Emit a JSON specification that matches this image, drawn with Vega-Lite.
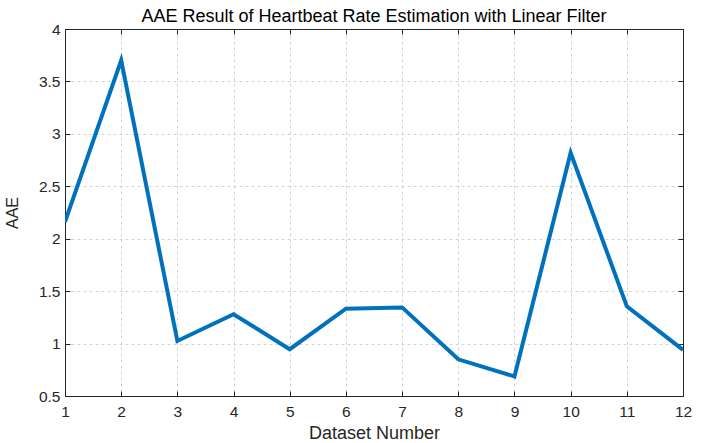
{
  "$schema": "https://vega.github.io/schema/vega-lite/v6.json",
  "width": 618,
  "height": 367,
  "autosize": {"type": "none"},
  "padding": {"left": 65, "top": 29, "right": 18, "bottom": 47},
  "background": "white",
  "title": {
    "text": "AAE Result of Heartbeat Rate Estimation with Linear Filter",
    "font": "Liberation Sans",
    "fontSize": 18,
    "fontWeight": "normal",
    "color": "#000000",
    "offset": -4,
    "anchor": "middle"
  },
  "config": {
    "view": {"stroke": "#262626", "strokeWidth": 1},
    "axis": {
      "labelFont": "Liberation Sans",
      "titleFont": "Liberation Sans",
      "labelFontSize": 15.5,
      "titleFontSize": 18,
      "titleFontWeight": "normal",
      "labelColor": "#262626",
      "titleColor": "#262626",
      "domainColor": "#262626",
      "tickColor": "#262626",
      "gridColor": "#c8c8c8",
      "gridDash": [3, 3],
      "gridWidth": 0.8
    }
  },
  "data": {
    "values": [
      {"dataset": 1, "aae": 2.16},
      {"dataset": 2, "aae": 3.7},
      {"dataset": 3, "aae": 1.025},
      {"dataset": 4, "aae": 1.28},
      {"dataset": 5, "aae": 0.946},
      {"dataset": 6, "aae": 1.333},
      {"dataset": 7, "aae": 1.345},
      {"dataset": 8, "aae": 0.85},
      {"dataset": 9, "aae": 0.686},
      {"dataset": 10, "aae": 2.82},
      {"dataset": 11, "aae": 1.355},
      {"dataset": 12, "aae": 0.94}
    ]
  },
  "layer": [
    {
      "mark": {"type": "line", "color": "#0072BD", "strokeWidth": 4, "strokeJoin": "miter", "clip": true},
      "encoding": {
        "x": {
          "field": "dataset", "type": "quantitative",
          "scale": {"domain": [1, 12], "nice": false, "zero": false},
          "axis": {"title": "Dataset Number", "values": [1,2,3,4,5,6,7,8,9,10,11,12], "tickSize": -5, "labelPadding": 13, "titlePadding": 5, "grid": true, "labelFlush": false, "labelOverlap": false}
        },
        "y": {
          "field": "aae", "type": "quantitative",
          "scale": {"domain": [0.5, 4], "nice": false, "zero": false},
          "axis": {"title": "AAE", "titleFontSize": 16, "format": "~g", "values": [0.5,1,1.5,2,2.5,3,3.5,4], "tickSize": -5, "labelPadding": 10, "titlePadding": 18, "grid": true, "labelFlush": false, "labelOverlap": false}
        }
      }
    },
    {
      "mark": {"type": "line", "opacity": 0},
      "encoding": {
        "x": {
          "field": "dataset", "type": "quantitative",
          "scale": {"domain": [1, 12], "nice": false, "zero": false},
          "axis": {"orient": "top", "title": null, "labels": false, "values": [1,2,3,4,5,6,7,8,9,10,11,12], "tickSize": -5, "grid": false}
        },
        "y": {
          "field": "aae", "type": "quantitative",
          "scale": {"domain": [0.5, 4], "nice": false, "zero": false},
          "axis": {"orient": "right", "title": null, "labels": false, "values": [0.5,1,1.5,2,2.5,3,3.5,4], "tickSize": -5, "grid": false}
        }
      }
    }
  ],
  "resolve": {"axis": {"x": "independent", "y": "independent"}}
}
